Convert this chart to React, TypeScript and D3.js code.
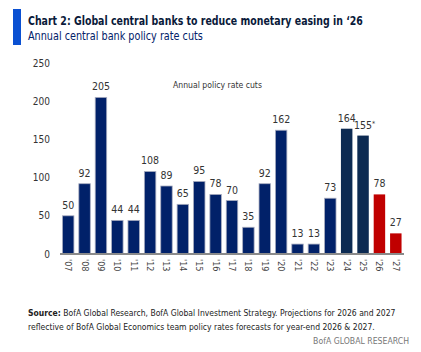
import React, { useLayoutEffect, useRef, useState } from "react";
import * as d3 from "d3";

const years = ["'07","'08","'09","'10","'11","'12","'13","'14","'15","'16","'17","'18","'19","'20","'21","'22","'23","'24","'25","'26","'27"];
const cuts = [50,92,205,44,44,108,89,65,95,78,70,35,92,162,13,13,73,164,155,78,27];
const valueLabels = ["50","92","205","44","44","108","89","65","95","78","70","35","92","162","13","13","73","164","155","78","27"];
const labelMarks = ["","","","","","","","","","","","","","","","","","","*","",""];
const barKinds = ["hist","hist","hist","hist","hist","hist","hist","hist","hist","hist","hist","hist","hist","hist","hist","hist","hist","recent","recent","forecast","forecast"];
const yTicks = [0,50,100,150,200,250];

const W = 421, H = 352;
const FONT = "'DejaVu Sans Condensed', 'Liberation Sans Narrow', sans-serif";
const fill: Record<string,string> = { hist: "#012169", recent: "#0c2a52", forecast: "#c00000" };

function FitText(props: { x: number; y: number; width: number; anchor?: "start" | "end"; children: React.ReactNode; [k: string]: any }) {
  const { x, y, width, anchor = "start", children, ...rest } = props;
  const ref = useRef<SVGTextElement>(null);
  const [s, setS] = useState(1);
  useLayoutEffect(() => {
    if (ref.current) {
      const w = ref.current.getComputedTextLength();
      if (w > 0) setS(width / w);
    }
  }, [width]);
  return (
    <text ref={ref} transform={`translate(${x},${y}) scale(${s},1)`} textAnchor={anchor} {...rest}>{children}</text>
  );
}

export default function App() {
  const x = d3.scaleBand<string>().domain(years).range([60, 404]).paddingInner(0.3).paddingOuter(0.15);
  const y = d3.scaleLinear().domain([0, 250]).range([254, 63]);
  return (
    <svg width={W} height={H} style={{ position: "absolute", left: 0, top: 0, background: "#fff" }} fontFamily={FONT}>
      <rect x={13} y={9} width={8} height={36} fill="#0a50d2" />
      <FitText x={28} y={25} width={335} fontSize={13} fontWeight="bold" fill="#0a1a3a">Chart 2: Global central banks to reduce monetary easing in ‘26</FitText>
      <FitText x={28} y={40} width={175} fontSize={11.5} fill="#012169">Annual central bank policy rate cuts</FitText>
      {yTicks.map(t => (
        <text key={t} x={50} y={y(t) + 3.5} fontSize={10} textAnchor="end" fill="#333">{t}</text>
      ))}
      <FitText x={173} y={88} width={89} fontSize={9} fill="#333">Annual policy rate cuts</FitText>
      {years.map((yr, i) => (
        <g key={yr}>
          <rect x={x(yr)} y={y(cuts[i])} width={x.bandwidth()} height={y(0) - y(cuts[i])}
            fill={fill[barKinds[i]]} stroke={barKinds[i] === "hist" ? "#a9adc0" : "none"} strokeWidth={0.8} />
          <text x={(x(yr) as number) + x.bandwidth() / 2 + (labelMarks[i] ? 1.5 : 0)} y={y(cuts[i]) - 7} fontSize={10.5} textAnchor="middle" fill="#333">
            {valueLabels[i]}{labelMarks[i] ? <tspan fontSize={7} dy={-3}>{labelMarks[i]}</tspan> : null}
          </text>
          <text transform={`translate(${(x(yr) as number) + x.bandwidth() / 2 - 3},${259}) rotate(90)`} fontSize={9} fill="#444">{yr}</text>
        </g>
      ))}
      <line x1={60} x2={404} y1={y(0)} y2={y(0)} stroke="#8a8a8a" strokeWidth={1.8} />
      <FitText x={28} y={316} width={368} fontSize={9.5} fill="#222"><tspan fontWeight="bold">Source:</tspan> BofA Global Research, BofA Global Investment Strategy. Projections for 2026 and 2027</FitText>
      <FitText x={28} y={330} width={347} fontSize={9.5} fill="#222">reflective of BofA Global Economics team policy rates forecasts for year-end 2026 &amp; 2027.</FitText>
      <FitText x={409} y={344} width={96} anchor="end" fontSize={9.5} fill="#777">BofA GLOBAL RESEARCH</FitText>
    </svg>
  );
}
